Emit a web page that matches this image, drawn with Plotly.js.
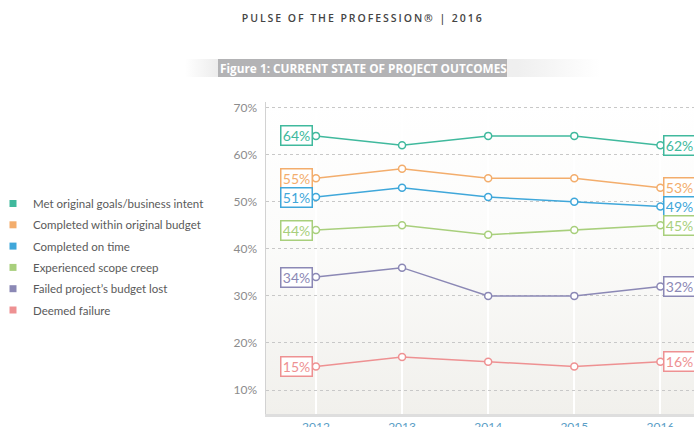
<!DOCTYPE html>
<html>
<head>
<meta charset="utf-8">
<script src="https://cdn.plot.ly/plotly-3.0.1.min.js"></script>
<style>
html,body{margin:0;padding:0;background:#fff;}
#chart{width:694px;height:427px;}
g.annotation[data-index="0"] text{letter-spacing:1.95px;}
</style>
</head>
<body>
<div id="chart"></div>
<script>
// ---- data ----
const years = [2012, 2013, 2014, 2015, 2016];
const seriesNames = [
  "Met original goals/business intent",
  "Completed within original budget",
  "Completed on time",
  "Experienced scope creep",
  "Failed project\u2019s budget lost",
  "Deemed failure"
];
const metGoals      = [64, 62, 64, 64, 62];
const withinBudget  = [55, 57, 55, 55, 53];
const onTime        = [51, 53, 51, 50, 49];
const scopeCreep    = [44, 45, 43, 44, 45];
const budgetLost    = [34, 36, 30, 30, 32];
const deemedFailure = [15, 17, 16, 15, 16];
const yTickVals = [10, 20, 30, 40, 50, 60, 70];
const yTickText = ["10%", "20%", "30%", "40%", "50%", "60%", "70%"];
const titleText = "PULSE OF THE PROFESSION\u00AE | 2016";
const figureText = "Figure 1: CURRENT STATE OF PROJECT OUTCOMES";

// ---- styles ----
const seriesValues = [metGoals, withinBudget, onTime, scopeCreep, budgetLost, deemedFailure];
const colors = ["#40b99d", "#f3ad6c", "#3fa7da", "#a8cf7c", "#8b88b5", "#ee9192"];
const FONT = "Lato, 'Open Sans', sans-serif";

const M = {l: 266, r: 0, t: 102, b: 13};
const PW = 694 - M.l - M.r, PH = 427 - M.t - M.b;
const px = x => (x - M.l) / PW;
const py = y => (427 - M.b - y) / PH;

const traces = [];
seriesValues.forEach((vals, i) => {
  traces.push({
    type: "scatter", mode: "lines+markers",
    x: years, y: vals, name: seriesNames[i], showlegend: false,
    line: {color: colors[i], width: 1.5},
    marker: {symbol: "circle", size: 7, color: "#ffffff", line: {color: colors[i], width: 1.5}},
    hoverinfo: "skip", cliponaxis: false
  });
});
seriesValues.forEach((vals, i) => {
  traces.push({
    type: "scatter", mode: "markers", x: [null], y: [null],
    name: seriesNames[i], showlegend: true, legendgroup: "g" + i,
    marker: {symbol: "square", size: 7, color: colors[i]}
  });
});

const annotations = [
  {xref: "paper", yref: "paper", x: px(362), y: py(17.5), xanchor: "center", yanchor: "middle",
   text: titleText, showarrow: false, font: {family: "'Open Sans', sans-serif", size: 10.5, color: "#444", weight: 600}},
  {xref: "paper", yref: "paper", x: px(218), y: py(68), xanchor: "left", yanchor: "middle",
   text: figureText, showarrow: false, font: {family: "'Open Sans', sans-serif", size: 11.8, color: "#ffffff", weight: 700}}
];
seriesValues.forEach((vals, i) => {
  const n = vals.length - 1;
  [[0, "right", -3], [n, "left", 3]].forEach(([k, anchor, shift]) => {
    annotations.push({
      x: years[k], y: vals[k], xref: "x", yref: "y", xanchor: anchor, yanchor: "middle",
      xshift: shift, text: vals[k] + "%", showarrow: false,
      font: {family: FONT, size: 14, color: colors[i]},
      bgcolor: "#ffffff", bordercolor: colors[i], borderwidth: 1.5, borderpad: 1,
      width: 28, height: 16
    });
  });
});

const bgSvg = "data:image/svg+xml;utf8," + encodeURIComponent(
  '<svg xmlns="http://www.w3.org/2000/svg" width="100" height="100" viewBox="0 0 100 100" preserveAspectRatio="none">' +
  '<defs><linearGradient id="g" x1="0" y1="0" x2="0" y2="1">' +
  '<stop offset="0" stop-color="#ffffff"/><stop offset="0.45" stop-color="#fbfbfa"/><stop offset="1" stop-color="#f1f0ec"/>' +
  '</linearGradient></defs><rect width="100" height="100" fill="url(#g)"/></svg>');

const bannerSvg = "data:image/svg+xml;utf8," + encodeURIComponent(
  '<svg xmlns="http://www.w3.org/2000/svg" width="415" height="20" viewBox="0 0 415 20" preserveAspectRatio="none">' +
  '<defs><linearGradient id="h" x1="0" y1="0" x2="1" y2="0">' +
  '<stop offset="0" stop-color="#ffffff"/><stop offset="0.08" stop-color="#ececec"/>' +
  '<stop offset="0.8" stop-color="#efefef"/><stop offset="1" stop-color="#ffffff"/>' +
  '</linearGradient></defs>' +
  '<rect x="0" y="1" width="415" height="18" fill="url(#h)"/>' +
  '<rect x="33" y="1" width="289" height="18" fill="#b3b3b5"/></svg>');

const layout = {
  width: 694, height: 427,
  margin: {l: M.l, r: M.r, t: M.t, b: M.b, pad: 0, autoexpand: false},
  paper_bgcolor: "#ffffff", plot_bgcolor: "rgba(0,0,0,0)",
  font: {family: FONT, color: "#666"},
  showlegend: true,
  legend: {
    x: px(-7), y: py(189), xanchor: "left", yanchor: "top",
    traceorder: "grouped", tracegroupgap: 2.3,
    font: {family: FONT, size: 11.5, color: "#5a5a5a"},
    bgcolor: "rgba(0,0,0,0)", itemwidth: 30
  },
  xaxis: {
    range: [2011.42, 2016.39], tickvals: years, ticktext: years.map(String),
    showgrid: true, gridcolor: "#ffffff", gridwidth: 2,
    showline: true, linecolor: "#dedede", linewidth: 3,
    zeroline: false, ticks: "", ticklen: 0,
    tickfont: {family: FONT, size: 12, color: "#5a9ec6"},
    fixedrange: true
  },
  yaxis: {
    range: [4.9, 71.2], tickvals: yTickVals, ticktext: yTickText,
    showgrid: true, gridcolor: "#c8c8c8", gridwidth: 1, griddash: "dot",
    showline: true, linecolor: "#d2d2d2", linewidth: 1.5,
    zeroline: false, ticks: "", ticklabelstandoff: 5,
    tickfont: {family: FONT, size: 12, color: "#8c8c8c"},
    fixedrange: true
  },
  images: [
    {source: bgSvg, xref: "paper", yref: "paper", x: 0, y: 1, sizex: 1, sizey: 1,
     xanchor: "left", yanchor: "top", sizing: "stretch", layer: "below"},
    {source: bannerSvg, xref: "paper", yref: "paper", x: px(185), y: py(58),
     sizex: 415 / PW, sizey: 20 / PH, xanchor: "left", yanchor: "top", sizing: "stretch", layer: "above"}
  ],
  annotations: annotations
};

Plotly.newPlot("chart", traces, layout, {displayModeBar: false, staticPlot: true});
</script>
</body>
</html>
